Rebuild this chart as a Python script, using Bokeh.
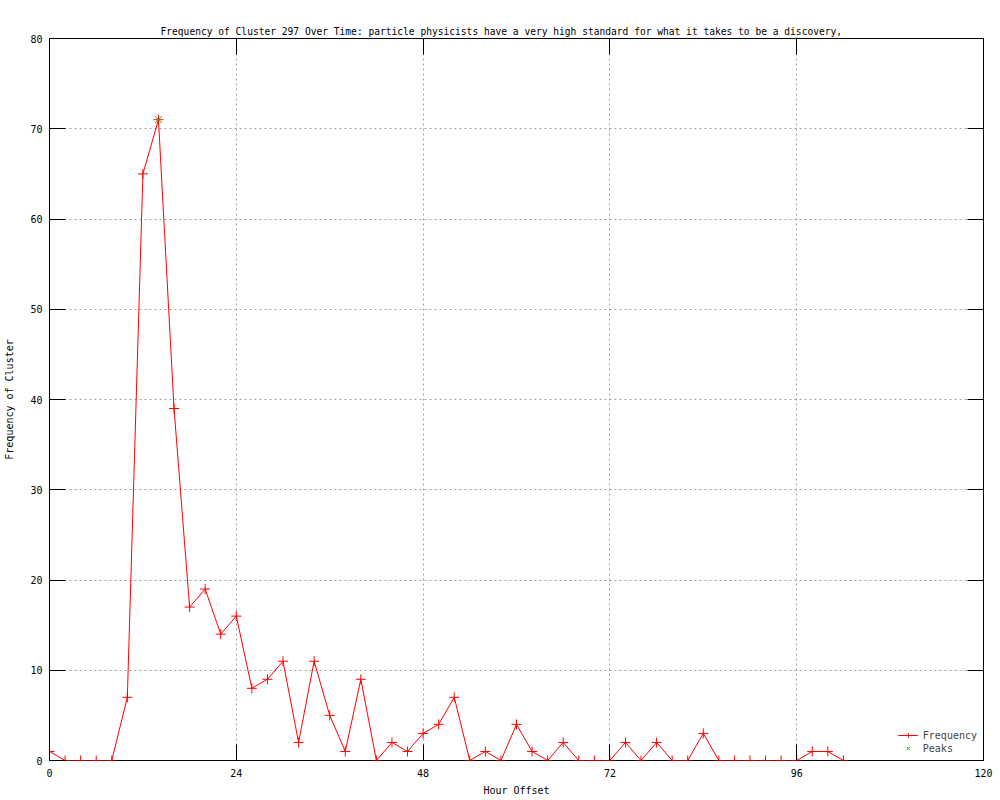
from bokeh.plotting import figure
from bokeh.models import LinearAxis, FixedTicker, Range1d, Legend, LegendItem, CustomJSTickFormatter, Title
from bokeh.embed import file_html
from bokeh.resources import INLINE

hours = [0, 2, 4, 6, 8, 10, 12, 14, 16, 18, 20, 22, 24, 26, 28, 30, 32, 34, 36, 38,
         40, 42, 44, 46, 48, 50, 52, 54, 56, 58, 60, 62, 64, 66, 68, 70, 72, 74, 76, 78,
         80, 82, 84, 86, 88, 90, 92, 94, 96, 98, 100, 102]
freq = [1, 0, 0, 0, 0, 7, 65, 71, 39, 17, 19, 14, 16, 8, 9, 11, 2, 11, 5, 1,
        9, 0, 2, 1, 3, 4, 7, 0, 1, 0, 4, 1, 0, 2, 0, 0, 0, 2, 0, 2,
        0, 0, 3, 0, 0, 0, 0, 0, 0, 1, 1, 0]
peak_hours = [14]
peak_freq = [71]
x_ticks = [0, 24, 48, 72, 96, 120]
y_ticks = [0, 10, 20, 30, 40, 50, 60, 70, 80]
title_text = "Frequency of Cluster 297 Over Time: particle physicists have a very high standard for what it takes to be a discovery,"

FONT = "DejaVu Sans Mono"
FS = "10px"

p = figure(width=1000, height=800, output_backend="svg", toolbar_location=None,
           x_range=Range1d(0, 120), y_range=Range1d(0, 80),
           min_border_left=49, min_border_right=17, min_border_top=38, min_border_bottom=40)
p.margin = (0, 0, 0, 0)
p.background_fill_color = "white"
p.border_fill_color = "white"
p.outline_line_color = "black"
p.outline_line_width = 1

p.xaxis.ticker = FixedTicker(ticks=x_ticks)
p.yaxis.ticker = FixedTicker(ticks=y_ticks)
for ax in (p.xaxis[0], p.yaxis[0]):
    ax.major_tick_in = 16
    ax.major_tick_out = 0
    ax.minor_tick_in = 0
    ax.minor_tick_out = 0
    ax.axis_line_color = None
    ax.major_tick_line_color = "black"
    ax.major_label_text_font = FONT
    ax.major_label_text_font_size = FS
    ax.major_label_text_color = "black"
    ax.axis_label_text_font = FONT
    ax.axis_label_text_font_size = FS
    ax.axis_label_text_font_style = "normal"
    ax.axis_label_text_color = "black"
p.xaxis.axis_label = "Hour Offset"
p.yaxis.axis_label = "Frequency of Cluster"
p.xaxis.major_label_standoff = 8
p.xaxis.axis_label_standoff = 5
p.yaxis.major_label_standoff = 7
p.yaxis.axis_label_standoff = 12

for loc, tk, so in (("above", x_ticks, 13), ("right", y_ticks, 0)):
    ax = LinearAxis(ticker=FixedTicker(ticks=tk))
    ax.major_tick_in = 16
    ax.major_tick_out = 0
    ax.minor_tick_in = 0
    ax.minor_tick_out = 0
    ax.axis_line_color = None
    ax.formatter = CustomJSTickFormatter(code="return ''")
    ax.major_label_text_font_size = "1px"
    ax.major_label_standoff = so
    p.add_layout(ax, loc)

# title added after the mirror axis so that it sits outside it
title = Title(text=title_text, align="left", offset=111, standoff=4,
              text_font=FONT, text_font_size="9.6px", text_font_style="normal",
              text_color="black")
p.add_layout(title, "above")

p.xgrid.ticker = FixedTicker(ticks=x_ticks)
p.ygrid.ticker = FixedTicker(ticks=y_ticks)
p.grid.grid_line_color = "#a0a0a0"
p.grid.grid_line_dash = "2 3"
p.grid.grid_line_width = 1

ln = p.line(hours, freq, line_color="red", line_width=1)
mk = p.scatter(hours, freq, marker="cross", size=10, line_color="red", line_width=1)
pk = p.scatter(peak_hours, peak_freq, marker="x", size=10, line_color="#00c000", line_width=1)

legend = Legend(items=[LegendItem(label="Frequency", renderers=[ln, mk]),
                       LegendItem(label="Peaks", renderers=[pk])],
                location="bottom_right")
legend.border_line_color = None
legend.background_fill_alpha = 0
legend.label_text_font = FONT
legend.label_text_font_size = FS
legend.glyph_height = 12
legend.label_height = 12
legend.spacing = 1
legend.padding = 4
legend.margin = 6
p.add_layout(legend)

open("out.html", "w").write(file_html(p, INLINE))
